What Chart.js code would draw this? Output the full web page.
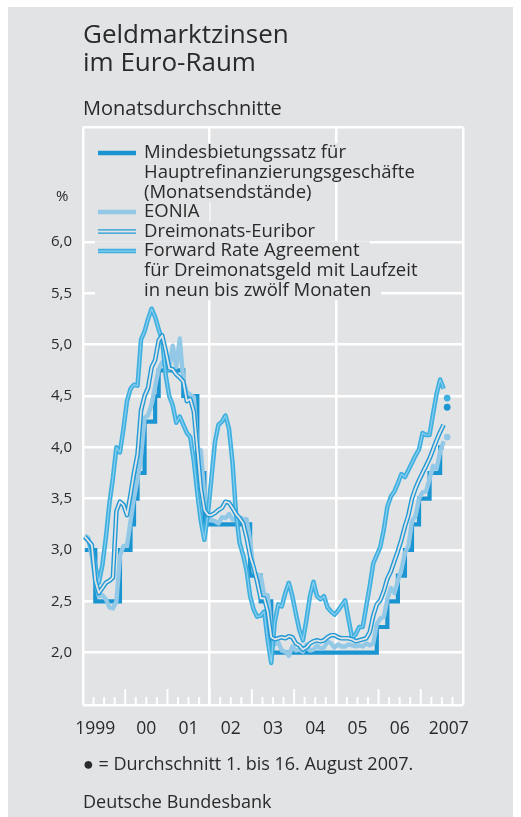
<!DOCTYPE html>
<html lang="de">
<head>
<meta charset="utf-8">
<title>Geldmarktzinsen im Euro-Raum</title>
<script src="https://cdn.jsdelivr.net/npm/chart.js@4.4.1/dist/chart.umd.min.js"></script>
<style>
  html, body { margin: 0; padding: 0; background: #fff; }
  body { width: 521px; height: 817px; position: relative; overflow: hidden;
         font-family: 'Open Sans', sans-serif; color: #2a2a2a; }
  #panel { position: absolute; left: 8px; top: 7px; width: 505px; height: 810px; background: #e2e3e5; }
  #chart { position: absolute; left: 0; top: 0; }
  .txt { position: absolute; left: 83px; white-space: nowrap; line-height: 1; }
  #t1 { top: 19.6px; font-size: 26px; }
  #t2 { top: 47.9px; font-size: 26px; }
  #sub { top: 98.2px; font-size: 20px; }
  #note { top: 754px; font-size: 18px; }
  #src { top: 792.3px; font-size: 18px; }
</style>
</head>
<body>
<div id="panel"></div>
<canvas id="chart" width="521" height="817"></canvas>
<div class="txt" id="t1">Geldmarktzinsen</div>
<div class="txt" id="t2">im Euro-Raum</div>
<div class="txt" id="sub">Monatsdurchschnitte</div>
<div class="txt" id="note">● = Durchschnitt 1. bis 16. August 2007.</div>
<div class="txt" id="src">Deutsche Bundesbank</div>
<script>
// Monatswerte Januar 1999 bis Juli 2007
const startYear = 1999;
const yearLabels = ['1999', '00', '01', '02', '03', '04', '05', '06', '2007'];
const yTicks = [2.0, 2.5, 3.0, 3.5, 4.0, 4.5, 5.0, 5.5, 6.0];

// Mindestbietungssatz (Monatsendstände)
const mindestbietungssatz = [
  3.00, 3.00, 3.00, 2.50, 2.50, 2.50, 2.50, 2.50, 2.50, 2.50, 3.00, 3.00,
  3.00, 3.25, 3.50, 3.75, 3.75, 4.25, 4.25, 4.25, 4.50, 4.75, 4.75, 4.75,
  4.75, 4.75, 4.75, 4.75, 4.50, 4.50, 4.50, 4.50, 3.75, 3.75, 3.25, 3.25,
  3.25, 3.25, 3.25, 3.25, 3.25, 3.25, 3.25, 3.25, 3.25, 3.25, 3.25, 2.75,
  2.75, 2.75, 2.50, 2.50, 2.50, 2.00, 2.00, 2.00, 2.00, 2.00, 2.00, 2.00,
  2.00, 2.00, 2.00, 2.00, 2.00, 2.00, 2.00, 2.00, 2.00, 2.00, 2.00, 2.00,
  2.00, 2.00, 2.00, 2.00, 2.00, 2.00, 2.00, 2.00, 2.00, 2.00, 2.00, 2.25,
  2.25, 2.25, 2.50, 2.50, 2.50, 2.75, 2.75, 3.00, 3.00, 3.25, 3.25, 3.50,
  3.50, 3.50, 3.75, 3.75, 3.75, 4.00, 4.00
];

const eonia = [
  3.14, 3.12, 2.93, 2.71, 2.55, 2.56, 2.52, 2.44, 2.43, 2.50, 2.94, 3.04,
  3.04, 3.28, 3.51, 3.69, 3.92, 4.29, 4.31, 4.42, 4.59, 4.76, 4.83, 4.83,
  4.76, 4.99, 4.78, 5.06, 4.65, 4.54, 4.51, 4.49, 3.99, 3.97, 3.51, 3.34,
  3.29, 3.28, 3.26, 3.32, 3.31, 3.35, 3.30, 3.29, 3.32, 3.30, 3.30, 3.09,
  2.79, 2.76, 2.75, 2.56, 2.56, 2.21, 2.08, 2.10, 2.02, 2.01, 1.97, 2.06,
  2.02, 2.03, 2.01, 2.08, 2.02, 2.03, 2.07, 2.04, 2.05, 2.11, 2.09, 2.05,
  2.08, 2.06, 2.06, 2.08, 2.07, 2.06, 2.07, 2.06, 2.09, 2.07, 2.09, 2.28,
  2.33, 2.35, 2.52, 2.63, 2.58, 2.70, 2.81, 2.97, 3.04, 3.28, 3.33, 3.50,
  3.56, 3.57, 3.69, 3.82, 3.79, 3.96, 4.06
];

const euribor = [
  3.13, 3.09, 3.05, 2.70, 2.58, 2.63, 2.68, 2.70, 2.73, 3.38, 3.47, 3.44,
  3.34, 3.54, 3.75, 3.93, 4.36, 4.50, 4.58, 4.78, 4.85, 5.04, 5.09, 4.94,
  4.77, 4.76, 4.71, 4.68, 4.64, 4.45, 4.47, 4.35, 3.98, 3.60, 3.39, 3.34,
  3.34, 3.36, 3.39, 3.41, 3.47, 3.46, 3.41, 3.35, 3.31, 3.26, 3.12, 2.94,
  2.83, 2.69, 2.53, 2.53, 2.40, 2.15, 2.13, 2.14, 2.15, 2.14, 2.16, 2.15,
  2.09, 2.07, 2.03, 2.05, 2.09, 2.11, 2.12, 2.11, 2.12, 2.15, 2.17, 2.17,
  2.15, 2.14, 2.14, 2.14, 2.13, 2.11, 2.12, 2.13, 2.14, 2.20, 2.36, 2.47,
  2.51, 2.60, 2.72, 2.79, 2.89, 2.99, 3.10, 3.23, 3.34, 3.50, 3.60, 3.68,
  3.75, 3.82, 3.89, 3.98, 4.07, 4.15, 4.22
];

// Forward Rate Agreement, Laufzeit 9 bis 12 Monate
const fra = [
  3.12, 3.10, 3.00, 2.85, 2.68, 2.85, 3.12, 3.45, 3.70, 4.00, 3.95, 4.18,
  4.45, 4.57, 4.61, 4.60, 5.05, 5.13, 5.25, 5.35, 5.27, 5.15, 5.05, 4.70,
  4.50, 4.41, 4.24, 4.30, 4.22, 4.14, 4.10, 3.87, 3.55, 3.28, 3.10, 3.35,
  3.70, 4.05, 4.22, 4.25, 4.31, 4.18, 3.85, 3.35, 3.07, 2.95, 2.80, 2.55,
  2.42, 2.35, 2.36, 2.40, 2.12, 1.90, 2.30, 2.47, 2.45, 2.58, 2.68, 2.55,
  2.38, 2.22, 2.12, 2.32, 2.55, 2.69, 2.55, 2.52, 2.55, 2.44, 2.40, 2.37,
  2.41, 2.46, 2.51, 2.32, 2.14, 2.18, 2.25, 2.25, 2.45, 2.65, 2.87, 2.95,
  3.03, 3.20, 3.42, 3.52, 3.57, 3.65, 3.74, 3.71, 3.78, 3.85, 3.92, 3.98,
  4.14, 4.12, 4.12, 4.33, 4.52, 4.66, 4.57
];

// Durchschnitt 1. bis 16. August 2007
const augustMonth = 7;
const augustFra = 4.48;
const augustEuribor = 4.39;
const augustEonia = 4.10;

const BG = '#e2e3e5';
const GRID = '#ffffff';
const TEXT = '#2a2a2a';
const C_MRO = '#1b95d2';
const C_EONIA = '#93c9e7';
const C_EURIBOR = '#1f9ad7';
const C_FRA = '#3eafdf';
const C_FRA_CORE = '#8acff0';
const FONT = "'Open Sans', sans-serif";

const toPoints = arr => arr.map((v, i) => ({ x: startYear + (i + 0.5) / 12, y: v }));
const augX = 2007 + (augustMonth + 0.5) / 12;

const legendLines = [
  { text: 'Mindesbietungssatz für', key: 'mro' },
  { text: 'Hauptrefinanzierungsgeschäfte' },
  { text: '(Monatsendstände)' },
  { text: 'EONIA', key: 'eonia' },
  { text: 'Dreimonats-Euribor', key: 'euribor' },
  { text: 'Forward Rate Agreement', key: 'fra' },
  { text: 'für Dreimonatsgeld mit Laufzeit' },
  { text: 'in neun bis zwölf Monaten' }
];

function drawSample(ctx, key, x0, x1, y) {
  const seg = (color, w) => {
    ctx.beginPath();
    ctx.strokeStyle = color;
    ctx.lineWidth = w;
    ctx.moveTo(x0, y);
    ctx.lineTo(x1, y);
    ctx.stroke();
  };
  if (key === 'mro') seg(C_MRO, 4.5);
  if (key === 'eonia') seg(C_EONIA, 4.5);
  if (key === 'euribor') { seg(C_EURIBOR, 4.6); seg(BG, 1.8); }
  if (key === 'fra') { seg(C_FRA, 4.5); seg(C_FRA_CORE, 1.2); }
}

const decor = {
  id: 'decor',
  afterDraw(chart) {
    const ctx = chart.ctx;
    const xs = chart.scales.x;
    const area = chart.chartArea;
    ctx.save();

    // Jahres- und Quartalsstriche an der Zeitachse
    ctx.strokeStyle = GRID;
    ctx.lineWidth = 2;
    for (let q = 0; q <= 36; q++) {
      const px = xs.getPixelForValue(startYear + q / 4);
      ctx.beginPath();
      ctx.moveTo(px, area.bottom - (q % 4 === 0 ? 16 : 8));
      ctx.lineTo(px, area.bottom);
      ctx.stroke();
    }

    // Jahresbeschriftung
    ctx.fillStyle = TEXT;
    ctx.font = '17.5px ' + FONT;
    ctx.textBaseline = 'alphabetic';
    yearLabels.forEach((lab, i) => {
      const y0 = xs.getPixelForValue(startYear + i);
      const y1 = xs.getPixelForValue(startYear + i + 1);
      if (i === 0) { ctx.textAlign = 'right'; ctx.fillText(lab, y1 - 10, 733.5); }
      else if (i === yearLabels.length - 1) { ctx.textAlign = 'left'; ctx.fillText(lab, y0 + 8, 733.5); }
      else { ctx.textAlign = 'center'; ctx.fillText(lab, (y0 + y1) / 2, 733.5); }
    });

    // Einheit
    ctx.textAlign = 'left';
    ctx.font = '15px ' + FONT;
    ctx.fillText('%', 56, 201);

    // Legende mit Aussparung der Gitterlinien
    ctx.font = '18.5px ' + FONT;
    legendLines.forEach((ln, i) => {
      const base = 158.3 + i * 19.6;
      const w = ctx.measureText(ln.text).width;
      ctx.fillStyle = BG;
      ctx.fillRect(95, base - 15, 144 + w + 10 - 95, 19.6);
    });
    legendLines.forEach((ln, i) => {
      const base = 158.3 + i * 19.6;
      ctx.fillStyle = TEXT;
      ctx.fillText(ln.text, 144, base);
      if (ln.key) drawSample(ctx, ln.key, 98, 136, base - 5.2);
    });
    ctx.restore();
  }
};

const lineDs = (data, color, width, order, extra = {}) => Object.assign({
  data: toPoints(data),
  borderColor: color,
  borderWidth: width,
  pointRadius: 0,
  fill: false,
  tension: 0,
  borderJoinStyle: 'round',
  borderCapStyle: 'butt',
  order: order
}, extra);

const dotDs = (value, color, order) => ({
  data: [{ x: augX, y: value }],
  showLine: false,
  pointRadius: 3.4,
  pointBorderWidth: 0,
  pointBackgroundColor: color,
  borderColor: color,
  order: order
});

new Chart(document.getElementById('chart'), {
  type: 'line',
  data: {
    datasets: [
      dotDs(augustFra, C_FRA, 0),
      dotDs(augustEuribor, C_MRO, 0),
      dotDs(augustEonia, C_EONIA, 0),
      lineDs(euribor, BG, 1.8, 1),
      lineDs(euribor, C_EURIBOR, 4.6, 2),
      lineDs(fra, C_FRA_CORE, 1.2, 3),
      lineDs(fra, C_FRA, 4.5, 4),
      lineDs(eonia, C_EONIA, 4.4, 5),
      lineDs(mindestbietungssatz, C_MRO, 4.2, 6, { stepped: 'before', borderJoinStyle: 'miter' })
    ]
  },
  options: {
    responsive: false,
    animation: false,
    devicePixelRatio: 1,
    layout: { padding: { left: 0, top: 127, right: 58, bottom: 0 } },
    plugins: { legend: { display: false }, tooltip: { enabled: false } },
    scales: {
      x: {
        type: 'linear',
        min: 1999,
        max: 2008,
        afterBuildTicks: s => { s.ticks = [1999, 2002, 2005, 2008].map(v => ({ value: v })); },
        afterFit: s => { s.height = 112; },
        ticks: { display: false },
        grid: { color: GRID, lineWidth: 2.5, drawTicks: false },
        border: { display: false }
      },
      y: {
        min: 1.49,
        max: 7.12,
        afterBuildTicks: s => { s.ticks = [1.49, ...yTicks, 7.12].map(v => ({ value: v })); },
        afterFit: s => { s.width = 83; },
        ticks: {
          padding: 11,
          color: TEXT,
          font: { family: FONT, size: 15 },
          callback: v => yTicks.includes(v) ? v.toFixed(1).replace('.', ',') : ''
        },
        grid: { color: GRID, lineWidth: 2.5, drawTicks: false },
        border: { display: false }
      }
    }
  },
  plugins: [decor]
});
</script>
</body>
</html>
